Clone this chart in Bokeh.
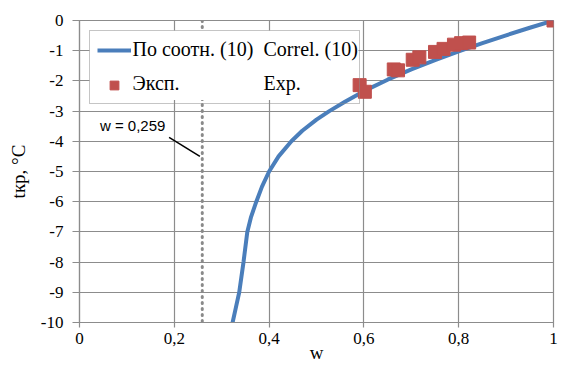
from bokeh.plotting import figure
from bokeh.models import Legend, LegendItem, Label, FixedTicker, Range1d
from bokeh.embed import file_html
from bokeh.resources import INLINE

# Data
curve_w = [0.323, 0.330, 0.337, 0.346, 0.354, 0.362, 0.373, 0.385, 0.400, 0.420,
           0.447, 0.470, 0.500, 0.527, 0.560, 0.600, 0.650, 0.700, 0.750, 0.800,
           0.850, 0.900, 0.950, 1.0]
curve_t = [-10, -9.5, -9.0, -8.0, -7.0, -6.5, -6.0, -5.5, -5.0, -4.5,
           -4.0, -3.65, -3.28, -3.0, -2.69, -2.34, -1.96, -1.62, -1.31, -1.02,
           -0.75, -0.49, -0.24, 0.0]
exp_w = [0.591, 0.602, 0.663, 0.672, 0.703, 0.717, 0.750, 0.768, 0.790, 0.805, 0.822, 1.0]
exp_t = [-2.14, -2.36, -1.62, -1.65, -1.30, -1.22, -1.04, -0.94, -0.80, -0.75, -0.73, 0.0]
w_limit = 0.259
x_ticks = [0, 0.2, 0.4, 0.6, 0.8, 1.0]
x_tick_labels = ["0", "0,2", "0,4", "0,6", "0,8", "1"]
y_ticks = [-10, -9, -8, -7, -6, -5, -4, -3, -2, -1, 0]
y_tick_labels = ["-10", "-9", "-8", "-7", "-6", "-5", "-4", "-3", "-2", "-1", "0"]

GRID = "#8c8c8c"
SERIF = "Times New Roman"

p = figure(width=558, height=365, output_backend="svg", toolbar_location=None,
           x_range=Range1d(0, 1), y_range=Range1d(-10, 0),
           min_border_left=79, min_border_right=5, min_border_top=20, min_border_bottom=10)
p.outline_line_color = GRID
p.outline_line_width = 1.2
p.background_fill_color = "white"
p.border_fill_color = "white"

p.xaxis.ticker = FixedTicker(ticks=x_ticks)
p.xaxis.major_label_overrides = dict(zip(x_ticks, x_tick_labels))
p.yaxis.ticker = FixedTicker(ticks=y_ticks)
p.yaxis.major_label_overrides = dict(zip(y_ticks, y_tick_labels))
p.xgrid.ticker = FixedTicker(ticks=x_ticks)
p.ygrid.ticker = FixedTicker(ticks=y_ticks)
for g in (p.xgrid, p.ygrid):
    g.grid_line_color = GRID
    g.grid_line_width = 1.2

for ax in (p.xaxis, p.yaxis):
    ax.axis_line_color = GRID
    ax.axis_line_width = 1.2
    ax.major_tick_line_color = GRID
    ax.major_tick_line_width = 1.2
    ax.minor_tick_line_color = None
    ax.major_label_text_font = SERIF
    ax.major_label_text_font_style = "normal"
    ax.major_label_text_font_size = "17px"
    ax.major_label_text_color = "black"
    ax.axis_label_text_font = SERIF
    ax.axis_label_text_font_size = "19px"
    ax.axis_label_text_font_style = "normal"
    ax.axis_label_text_color = "black"

p.xaxis.major_tick_out = 5
p.xaxis.major_tick_in = 0
p.xaxis.axis_label = "w"
p.xaxis.major_label_standoff = 5
p.xaxis.axis_label_standoff = -5
p.yaxis.major_tick_out = 7
p.yaxis.major_tick_in = 3
p.yaxis.axis_label = "tкр, °C"
p.yaxis.major_label_standoff = 9
p.yaxis.axis_label_standoff = 9

# dotted limit line
p.line([w_limit, w_limit], [0, -10], line_color="#8a8a8a", line_width=3,
       line_dash="1 5", line_cap="round")

# annotation with leader line
p.line([0.189, 0.254], [-3.87, -4.5], line_color="black", line_width=1.5)
p.add_layout(Label(x=0.043, y=-3.49, text="w = 0,259", text_font="Liberation Sans",
                   text_font_size="15px", text_baseline="middle", text_color="black"))

# white background behind the (transparent) legend
p.quad(left=[0.0211], right=[0.5886], top=[-0.329], bottom=[-2.632],
       fill_color="white", line_color=None)

r_line = p.line(curve_w, curve_t, line_color="#4a7ebb", line_width=4)
r_exp = p.scatter(exp_w, exp_t, marker="square", size=13, fill_color="#c0504d",
                  line_color="#c0504d")

legend = Legend(items=[LegendItem(label="По соотн. (10)", renderers=[r_line]),
                       LegendItem(label="Эксп.", renderers=[r_exp])],
                location="top_left")
legend.margin = 10
legend.padding = 7
legend.spacing = 12
legend.label_height = 22
legend.glyph_height = 22
legend.glyph_width = 34
legend.label_standoff = 2
legend.label_width = 219
legend.label_text_color = None
legend.label_text_font_size = "20px"
legend.border_line_color = GRID
legend.border_line_width = 1.5
legend.background_fill_alpha = 0.0
p.add_layout(legend)

legend_texts = [("По соотн. (10)", 53, -28), ("Correl. (10)", 184, -28),
                ("Эксп.", 53, -62), ("Exp.", 184, -62)]
for txt, xo, yo in legend_texts:
    p.add_layout(Label(x=0, y=0, x_offset=xo, y_offset=yo, text=txt, text_font=SERIF,
                       text_font_size="20px", text_baseline="middle", text_color="black"))

open("out.html", "w").write(file_html(p, INLINE))
